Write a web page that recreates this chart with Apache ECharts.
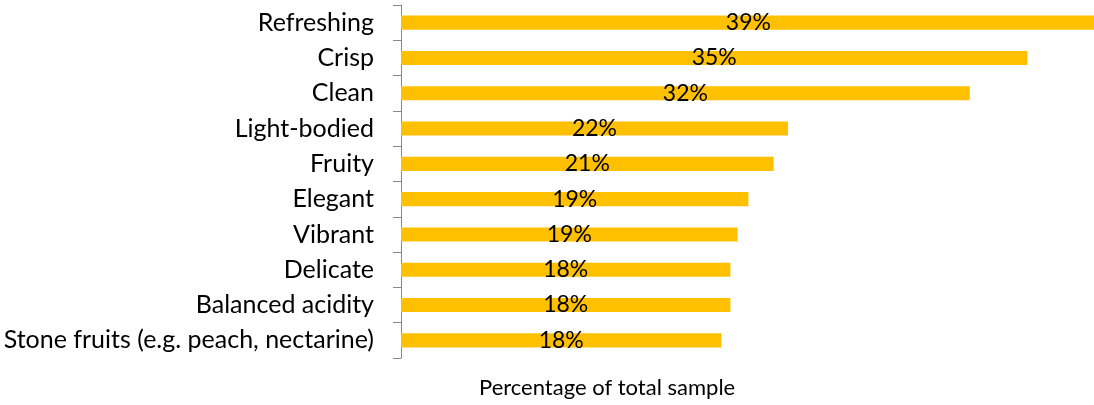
<!DOCTYPE html>
<html>
<head>
<meta charset="utf-8">
<script src="https://cdn.jsdelivr.net/npm/echarts@6/dist/echarts.min.js"></script>
<style>
html,body{margin:0;padding:0;background:#fff;}
#chart{width:1094px;height:405px;}
</style>
</head>
<body>
<div id="chart"></div>
<script>
const categories = ["Refreshing","Crisp","Clean","Light-bodied","Fruity","Elegant","Vibrant","Delicate","Balanced acidity","Stone fruits (e.g. peach, nectarine)"];
const values = [38.6, 34.8, 31.6, 21.5, 20.7, 19.3, 18.7, 18.3, 18.3, 17.8];
const axisTitle = "Percentage of total sample";

const chart = echarts.init(document.getElementById('chart'));
const FONT = 'Lato';
chart.setOption({
  animation: false,
  grid: { left: 401, top: 5, width: 720, bottom: 47, containLabel: false, outerBoundsMode: 'none' },
  xAxis: { type: 'value', min: 0, max: 40, show: false },
  yAxis: {
    type: 'category', data: categories, inverse: true,
    axisLine: { show: true, lineStyle: { color: '#898989', width: 1 } },
    axisTick: { show: true, length: 8, lineStyle: { color: '#898989' } },
    axisLabel: { color: '#000', fontFamily: FONT, fontSize: 25, margin: 27 },
    splitLine: { show: false }
  },
  series: [{
    type: 'bar', data: values, barCategoryGap: '60%',
    itemStyle: { color: '#FFC000' },
    label: { show: true, position: 'inside', color: '#000', fontFamily: FONT, fontSize: 23,
      formatter: p => Math.round(p.value) + '%' }
  }],
  graphic: [{
    type: 'text', left: 479, top: 377,
    style: { text: axisTitle, fill: '#000', font: '22px Lato' }
  }]
});
</script>
</body>
</html>
